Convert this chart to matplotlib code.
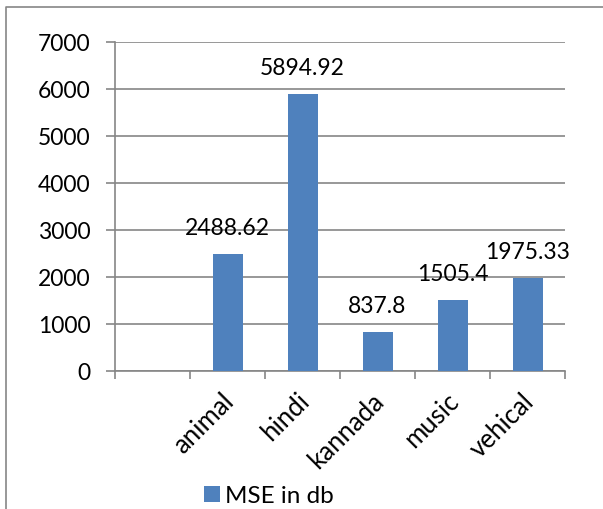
import matplotlib
matplotlib.use("Agg")
import matplotlib.pyplot as plt
from matplotlib.lines import Line2D
from matplotlib.transforms import ScaledTranslation
import numpy as np

plt.rcParams["font.family"] = ["Lato", "DejaVu Sans"]

# Excel left an empty first category slot
categories = ["", "animal", "hindi", "kannada", "music", "vehical"]
mse_db = [np.nan, 2488.62, 5894.92, 837.8, 1505.4, 1975.33]
value_labels = ["", "2488.62", "5894.92", "837.8", "1505.4", "1975.33"]
yticks = [0, 1000, 2000, 3000, 4000, 5000, 6000, 7000]

BLUE = "#4F81BD"
GRID = "#868686"
FS = 16.5      # numbers
FS_TXT = 18.5  # words

fig = plt.figure(figsize=(6.03, 5.10), dpi=100)
ax = fig.add_axes([115 / 603, 1 - 372 / 510, 450 / 603, 329 / 510])

x = np.arange(len(categories))
bars = ax.bar(x, mse_db, width=0.4, color=BLUE, zorder=3, label="MSE in db")

for xi, v, lab in zip(x, mse_db, value_labels):
    if np.isnan(v):
        continue
    ax.annotate(lab, (xi, v), xytext=(0, 19), textcoords="offset points",
                ha="center", va="center", fontsize=FS, color="black")

ax.set_xlim(-0.5, len(categories) - 0.5)
ax.set_ylim(0, 7000)
ax.set_yticks(yticks)
ax.yaxis.grid(True, color=GRID, lw=1.2, zorder=0)
ax.set_axisbelow(True)

ax.set_xticks(x)
ax.set_xticklabels(categories, rotation=45, ha="right", va="top",
                   rotation_mode="anchor", fontsize=FS_TXT)
ax.set_xticks(np.arange(len(categories) + 1) - 0.5, minor=True)
ax.tick_params(axis="x", which="major", length=0, pad=12)
ax.tick_params(axis="x", which="minor", length=6, color=GRID, width=1.2)
ax.tick_params(axis="y", length=6.5, color=GRID, width=1.2, labelsize=FS, pad=11)
shift = ScaledTranslation(-6 / 100, 0, fig.dpi_scale_trans)
for lab in ax.get_xticklabels():
    lab.set_transform(lab.get_transform() + shift)

for s in ("top", "right"):
    ax.spines[s].set_visible(False)
for s in ("left", "bottom"):
    ax.spines[s].set_color(GRID)
    ax.spines[s].set_linewidth(1.2)

# outer chart-area border (left and top edges visible)
fig.add_artist(Line2D([6 / 603, 6 / 603, 1.0], [0, 1 - 8 / 510, 1 - 8 / 510],
                      transform=fig.transFigure, color=GRID, lw=1.2))

fig.legend(handles=[bars], loc="center left",
           bbox_to_anchor=(204 / 603, 1 - 497 / 510), frameon=False,
           fontsize=17.5, handlelength=0.65, handleheight=0.65, handletextpad=0.2,
           borderpad=0, borderaxespad=0)

fig.savefig("out.png", dpi=100, facecolor="white")
